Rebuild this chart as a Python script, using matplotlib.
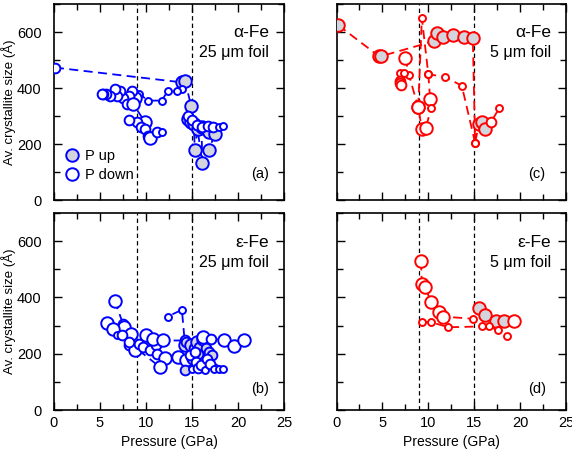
import numpy as np
import matplotlib
matplotlib.use('Agg')
import matplotlib.pyplot as plt
from matplotlib.ticker import MultipleLocator
from matplotlib.lines import Line2D

plt.rcParams['font.family'] = ['Liberation Sans', 'DejaVu Sans']

# kind codes per point: F/f = P up (filled, big/medium), O/o/s = P down (open, big/medium/small)

# (a) alpha-Fe, 25 um foil
A1_P = [0.1, 13.95, 14.24, 14.9, 14.6, 14.9, 15.2, 15.3, 15.6, 16.1, 16.05, 16.8, 16.8, 17.5]
A1_D = [473, 420, 426, 337, 290, 280, 272, 177, 255, 132, 260, 242, 177, 236]
A1_K = "oFFFFFFFFFFFFF"
A2_P = [13.9, 13.4, 12.35, 11.7, 10.25, 9.2, 8.8, 8.45, 8.1, 7.5, 7.2, 6.8, 6.6, 6.1, 5.7, 5.35, 5.2]
A2_D = [396, 388, 388, 355, 355, 380, 365, 390, 372, 366, 390, 372, 396, 372, 378, 380, 380]
A2_K = "ssssssOooooooooooo"
A3_P = [7.9, 8.6, 9.9, 9.0, 8.1, 9.5, 9.9, 10.25, 10.4, 11.2, 11.7]
A3_D = [343, 343, 278, 278, 284, 260, 252, 230, 222, 242, 242]
A3_K = "oOOoooooOos"
A4_P = [14.6, 15.0, 15.5, 16.1, 16.7, 17.3, 17.9, 18.4]
A4_D = [300, 285, 268, 262, 265, 262, 260, 266]
A4_K = "ooooooss"

# (b) epsilon-Fe, 25 um foil
B1_P = [6.6, 7.5, 7.65, 8.4, 8.1, 8.8, 9.2, 9.7, 10.4, 11.05, 11.2, 12.1, 13.5, 14.4]
B1_D = [389, 306, 294, 271, 230, 212, 236, 224, 212, 230, 200, 183, 188, 177]
B1_K = "OoOOoOoooooOOO"
B2_P = [5.8, 6.45, 6.8, 7.4, 8.1, 11.5]
B2_D = [310, 289, 265, 265, 241, 153]
B2_K = "OOsooO"
B3_P = [10.0, 10.8, 11.8, 14.2, 13.9, 12.35]
B3_D = [268, 253, 247, 247, 356, 332]
B3_K = "OOOfss"
B4_P = [14.2, 14.4, 14.9, 15.2, 15.5, 15.8, 16.2, 16.5, 16.9, 17.2, 14.2, 15.1, 15.7]
B4_D = [230, 241, 230, 220, 240, 225, 253, 220, 205, 195, 141, 185, 200]
B4_K = "FfFfFfFffffFf"
B5_P = [14.8, 15.0, 15.4, 15.7, 16.0, 16.4, 16.6, 17.0, 17.4, 17.9, 18.4, 15.3]
B5_D = [195, 145, 170, 150, 160, 141, 180, 165, 147, 147, 147, 205]
B5_K = "osooosoossso"
B6_P = [16.2, 17.1, 18.5, 19.6, 20.6]
B6_D = [259, 253, 250, 228, 250]
B6_K = "OoOOO"

# (c) alpha-Fe, 5 um foil
C1_P = [0.2, 4.6, 4.9, 10.6, 11.0, 11.6, 12.7, 13.9, 14.85, 15.1, 15.5, 15.9, 16.2, 16.8, 17.75]
C1_D = [624, 514, 514, 567, 597, 582, 589, 582, 577, 204, 270, 280, 254, 277, 329]
C1_K = "FFFFFFFFFsFFFos"
C2_P = [15.1, 13.65, 11.8, 10.0, 9.3, 8.9, 9.3]
C2_D = [204, 408, 440, 449, 650, 331, 254]
C2_K = "sssssOO"
C3_P = [7.5, 7.9, 8.9]
C3_D = [508, 446, 331]
C3_K = "OsO"
C4_P = [10.0, 10.2, 10.3, 9.75]
C4_D = [449, 361, 330, 258]
C4_K = "sOsO"
C5_P = [6.9, 7.3, 6.9, 6.95, 7.0]
C5_D = [453, 453, 425, 418, 412]
C5_K = "ssooo"

# (d) epsilon-Fe, 5 um foil
D1_P = [9.2, 9.3, 9.65, 10.3, 11.2, 11.6, 14.9, 15.5, 16.2, 17.4, 18.2, 19.3]
D1_D = [528, 448, 438, 383, 347, 332, 324, 363, 336, 316, 318, 318]
D1_K = "OOOOOOsFFFFO"
D2_P = [9.3, 10.3, 12.2, 15.9, 16.6, 17.6, 18.6]
D2_D = [312, 312, 294, 297, 297, 283, 262]
D2_K = "sssssss"

panels = [
    ('a', 'blue', 'α-Fe', '25 μm foil',
     [(A1_P, A1_D, A1_K), (A2_P, A2_D, A2_K), (A3_P, A3_D, A3_K), (A4_P, A4_D, A4_K)]),
    ('c', 'red', 'α-Fe', '5 μm foil',
     [(C1_P, C1_D, C1_K), (C2_P, C2_D, C2_K), (C3_P, C3_D, C3_K), (C4_P, C4_D, C4_K), (C5_P, C5_D, C5_K)]),
    ('b', 'blue', 'ε-Fe', '25 μm foil',
     [(B1_P, B1_D, B1_K), (B2_P, B2_D, B2_K), (B3_P, B3_D, B3_K), (B4_P, B4_D, B4_K), (B5_P, B5_D, B5_K), (B6_P, B6_D, B6_K)]),
    ('d', 'red', 'ε-Fe', '5 μm foil',
     [(D1_P, D1_D, D1_K), (D2_P, D2_D, D2_K)]),
]

MS = {'F': 9, 'f': 7, 'O': 9, 'o': 7, 's': 5}
FILL = '#d4d4dc'

W, H = 572, 450
fig = plt.figure(figsize=(W / 100, H / 100), dpi=100)
rects = {
    'a': (54, 4, 230, 196),
    'c': (336.5, 4, 229.5, 196),
    'b': (54, 213, 230, 197),
    'd': (336.5, 213, 229.5, 197),
}
lab_pos = {'a': (0.935, 0.133), 'c': (0.91, 0.133), 'b': (0.935, 0.105), 'd': (0.915, 0.105)}

for name, col, t1, t2, paths in panels:
    x0, y0, w, h = rects[name]
    ax = fig.add_axes([x0 / W, 1 - (y0 + h) / H, w / W, h / H])
    for ln in (9, 15):
        ax.axvline(ln, color='black', lw=0.9, ls=(0, (3.5, 2.5)), zorder=1)
    for px, dy, kind in paths:
        ax.plot(px, dy, color=col, lw=1.3, ls=(0, (5, 3)), zorder=2)
        for xi, yi, k in zip(px, dy, kind):
            fc = FILL if k in 'Ff' else 'white'
            ax.plot(xi, yi, 'o', ms=MS[k], mfc=fc, mec=col, mew=1.4, zorder=3)
    ax.set_xlim(0, 25)
    ax.set_ylim(0, 700)
    ax.xaxis.set_major_locator(MultipleLocator(5))
    ax.xaxis.set_minor_locator(MultipleLocator(2.5))
    ax.yaxis.set_major_locator(MultipleLocator(200))
    ax.yaxis.set_minor_locator(MultipleLocator(100))
    ax.tick_params(which='both', direction='in', top=True, right=True, width=1.0, labelsize=10.5)
    ax.tick_params(which='major', length=6)
    ax.tick_params(which='minor', length=4)
    ax.tick_params(axis='y', pad=9)
    ax.tick_params(axis='x', pad=4.5)
    for sp in ax.spines.values():
        sp.set_linewidth(1.2)
    if name in ('a', 'c'):
        ax.tick_params(labelbottom=False)
    else:
        ax.set_xlabel('Pressure (GPa)', fontsize=10)
        ax.xaxis.set_label_coords(0.5, -0.125)
    if name in ('c', 'd'):
        ax.tick_params(labelleft=False)
    else:
        ax.set_ylabel('Av. crystallite size (Å)', fontsize=9.5)
        ax.yaxis.set_label_coords(-0.165, 0.5)
    ty = 0.857 if name in ('a', 'c') else 0.849
    ax.text(0.935, ty, t1, transform=ax.transAxes, ha='right', va='center', fontsize=12.5)
    ax.text(0.935, ty - 0.102, t2, transform=ax.transAxes, ha='right', va='center', fontsize=11.5)
    lx, ly = lab_pos[name]
    ax.text(lx, ly, '(%s)' % name, transform=ax.transAxes, ha='right', va='center', fontsize=10.5)
    if name == 'a':
        handles = [Line2D([], [], ls='none', marker='o', ms=9, mfc=FILL, mec=col, mew=1.4),
                   Line2D([], [], ls='none', marker='o', ms=9, mfc='white', mec=col, mew=1.4)]
        ax.legend(handles, ['P up', 'P down'], loc='lower left', bbox_to_anchor=(0.0, 0.04),
                  frameon=False, fontsize=10.5, handlelength=1.0, handletextpad=0.4,
                  labelspacing=0.35, borderpad=0.2)

fig.savefig('out.png', dpi=100)
